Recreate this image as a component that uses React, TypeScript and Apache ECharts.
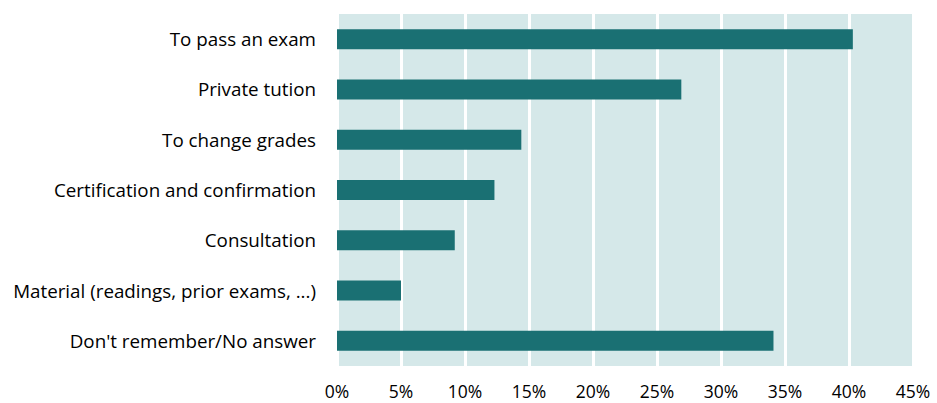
import React, { useEffect, useRef } from "react";
import * as echarts from "echarts";

const categories = [
  "To pass an exam",
  "Private tution",
  "To change grades",
  "Certification and confirmation",
  "Consultation",
  "Material (readings, prior exams, ...)",
  "Don't remember/No answer",
];
const values = [40.3, 26.9, 14.4, 12.3, 9.2, 5.0, 34.1];
const xTicks = [0, 5, 10, 15, 20, 25, 30, 35, 40, 45];

const FONT = "'Open Sans', 'Noto Sans', sans-serif";

export default function App() {
  const ref = useRef<HTMLDivElement>(null);
  useEffect(() => {
    if (!ref.current) return;
    const chart = echarts.init(ref.current, null, { renderer: "svg" });
    chart.setOption({
      animation: false,
      grid: {
        left: 337,
        right: 24,
        top: 14,
        bottom: 37,
        show: true,
        backgroundColor: "#d5e8e9",
        borderWidth: 0,
      },
      xAxis: {
        type: "value",
        min: xTicks[0],
        max: xTicks[xTicks.length - 1],
        interval: 5,
        axisLine: { show: false },
        axisTick: { show: false },
        splitLine: { show: true, lineStyle: { color: "#ffffff", width: 3 } },
        axisLabel: {
          formatter: (v: number) => `${v}%`,
          color: "#000",
          fontSize: 17.5,
          lineHeight: 17,
          fontFamily: FONT,
          margin: 16,
        },
      },
      yAxis: {
        type: "category",
        data: categories,
        inverse: true,
        axisLine: { show: false },
        axisTick: { show: false },
        splitLine: { show: false },
        axisLabel: {
          color: "#000",
          fontSize: 18.8,
          fontFamily: FONT,
          margin: 21,
        },
      },
      series: [
        {
          type: "bar",
          data: values,
          barWidth: 20,
          itemStyle: { color: "#1a7073" },
        },
      ],
    });
    return () => chart.dispose();
  }, []);
  return (
    <div
      ref={ref}
      style={{ position: "fixed", left: 0, top: 0, width: 937, height: 403, background: "#fff" }}
    />
  );
}
